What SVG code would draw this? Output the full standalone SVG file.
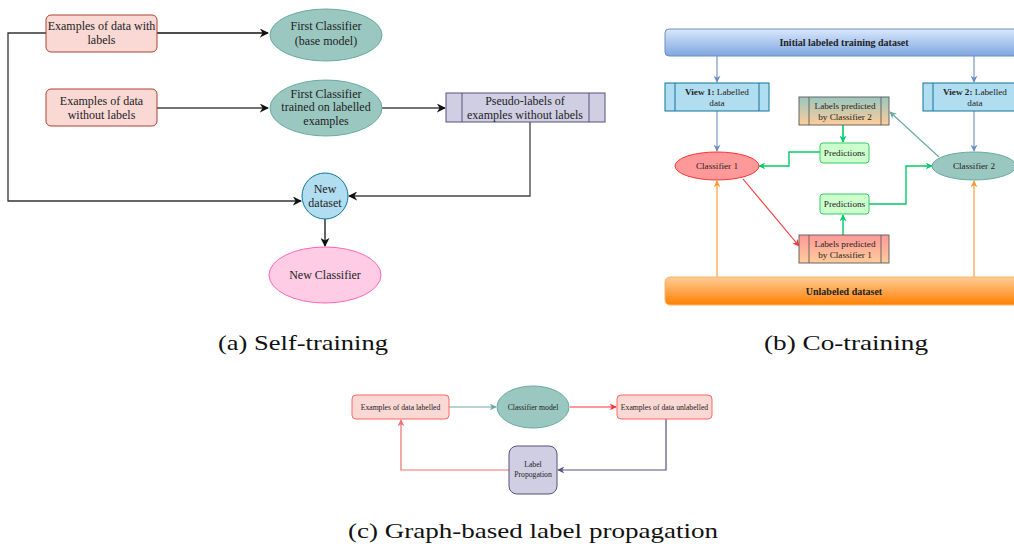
<svg xmlns="http://www.w3.org/2000/svg" width="1014" height="550" viewBox="0 0 1014 550">
  <defs>
    <style>
      text { font-family: 'Liberation Serif', 'DejaVu Serif', serif; fill: #222; text-anchor: middle; }
      .t12 { font-size: 12px; }
      .t9 { font-size: 9.2px; }
      .t8b { font-size: 10px; font-weight: bold; }
      .t7 { font-size: 7.7px; }
      .cap { font-size: 21px; fill: #111; text-anchor: start; }
      .conn { fill: none; }
    </style>
    <!-- arrowheads, one per colour -->
    <marker id="arBlack" viewBox="0 0 10 10" refX="9" refY="5" markerUnits="userSpaceOnUse" markerWidth="9" markerHeight="9" orient="auto">
      <path d="M0,0 L10,5 L0,10 L3,5 Z" fill="#111"/>
    </marker>
    <marker id="arBlue" viewBox="0 0 10 10" refX="9" refY="5" markerUnits="userSpaceOnUse" markerWidth="7" markerHeight="7" orient="auto">
      <path d="M0,0 L10,5 L0,10 L3,5 Z" fill="#6c8ebf"/>
    </marker>
    <marker id="arGreen" viewBox="0 0 10 10" refX="9" refY="5" markerUnits="userSpaceOnUse" markerWidth="7" markerHeight="7" orient="auto">
      <path d="M0,0 L10,5 L0,10 L3,5 Z" fill="#00cc66"/>
    </marker>
    <marker id="arTeal" viewBox="0 0 10 10" refX="9" refY="5" markerUnits="userSpaceOnUse" markerWidth="7" markerHeight="7" orient="auto">
      <path d="M0,0 L10,5 L0,10 L3,5 Z" fill="#67ab9f"/>
    </marker>
    <marker id="arRed" viewBox="0 0 10 10" refX="9" refY="5" markerUnits="userSpaceOnUse" markerWidth="7" markerHeight="7" orient="auto">
      <path d="M0,0 L10,5 L0,10 L3,5 Z" fill="#ff3333"/>
    </marker>
    <marker id="arSalmon" viewBox="0 0 10 10" refX="9" refY="5" markerUnits="userSpaceOnUse" markerWidth="7" markerHeight="7" orient="auto">
      <path d="M0,0 L10,5 L0,10 L3,5 Z" fill="#f07070"/>
    </marker>
    <marker id="arOrange" viewBox="0 0 10 10" refX="9" refY="5" markerUnits="userSpaceOnUse" markerWidth="7" markerHeight="7" orient="auto">
      <path d="M0,0 L10,5 L0,10 L3,5 Z" fill="#ff9933"/>
    </marker>
    <marker id="arPurple" viewBox="0 0 10 10" refX="9" refY="5" markerUnits="userSpaceOnUse" markerWidth="7" markerHeight="7" orient="auto">
      <path d="M0,0 L10,5 L0,10 L3,5 Z" fill="#56517e"/>
    </marker>

    <linearGradient id="gBlue" x1="0" y1="0" x2="0" y2="1">
      <stop offset="0" stop-color="#dae8fc"/>
      <stop offset="1" stop-color="#7ea6e0"/>
    </linearGradient>
    <linearGradient id="gOrange" x1="0" y1="0" x2="0" y2="1">
      <stop offset="0" stop-color="#ffcc99"/>
      <stop offset="1" stop-color="#ff8000"/>
    </linearGradient>
    <linearGradient id="gTealPeach" x1="0" y1="0" x2="0" y2="1">
      <stop offset="0" stop-color="#9ac7bf"/>
      <stop offset="1" stop-color="#ffcc99"/>
    </linearGradient>
    <linearGradient id="gRedPeach" x1="0" y1="0" x2="0" y2="1">
      <stop offset="0" stop-color="#ff9999"/>
      <stop offset="1" stop-color="#ffcc99"/>
    </linearGradient>
  </defs>

  <rect width="1014" height="550" fill="#fff"/>

  <!-- ===== (a) Self-training ===== -->
  <g id="a-connectors" class="conn" stroke-width="1.3">
    <path d="M157,33 L268,33" stroke="#111" marker-end="url(#arBlack)"/>
    <path d="M46,33 L8,33 L8,201 L301,201" stroke="#333" marker-end="url(#arBlack)"/>
    <path d="M157,108 L268,108" stroke="#444" marker-end="url(#arBlack)"/>
    <path d="M382,108 L445,108" stroke="#444" marker-end="url(#arBlack)"/>
    <path d="M530,122 L530,196 L349,196" stroke="#444" marker-end="url(#arBlack)"/>
    <path d="M325,219 L325,246" stroke="#111" marker-end="url(#arBlack)"/>
  </g>

  <g id="a-labelled">
    <rect x="46" y="15" width="111" height="37" rx="5" fill="#fad9d5" stroke="#ae4132"/>
    <text class="t12" x="101.5" y="30">Examples of data with</text>
    <text class="t12" x="101.5" y="44">labels</text>
  </g>
  <g id="a-base-model">
    <ellipse cx="326" cy="35" rx="56" ry="26" fill="#9ac7bf" stroke="#67ab9f"/>
    <text class="t12" x="326" y="30">First Classifier</text>
    <text class="t12" x="326" y="45">(base model)</text>
  </g>
  <g id="a-unlabelled">
    <rect x="46" y="89" width="111" height="37" rx="5" fill="#fad9d5" stroke="#ae4132"/>
    <text class="t12" x="101.5" y="105">Examples of data</text>
    <text class="t12" x="101.5" y="119">without labels</text>
  </g>
  <g id="a-trained">
    <ellipse cx="326" cy="108" rx="56" ry="28" fill="#9ac7bf" stroke="#67ab9f"/>
    <text class="t12" x="326" y="98">First Classifier</text>
    <text class="t12" x="326" y="111">trained on labelled</text>
    <text class="t12" x="326" y="125">examples</text>
  </g>
  <g id="a-pseudo">
    <rect x="446" y="93" width="159" height="29" fill="#d0cee2" stroke="#56517e"/>
    <line x1="462" y1="93" x2="462" y2="122" stroke="#56517e"/>
    <line x1="589" y1="93" x2="589" y2="122" stroke="#56517e"/>
    <text class="t12" x="525" y="105">Pseudo-labels of</text>
    <text class="t12" x="525" y="119">examples without labels</text>
  </g>
  <g id="a-new-dataset">
    <circle cx="325" cy="196" r="23" fill="#b1ddf0" stroke="#10739e"/>
    <text class="t12" x="325" y="193">New</text>
    <text class="t12" x="325" y="207">dataset</text>
  </g>
  <g id="a-new-classifier">
    <ellipse cx="325" cy="275" rx="56" ry="28" fill="#ffcce6" stroke="#ff66b3"/>
    <text class="t12" x="325" y="279">New Classifier</text>
  </g>

  <!-- ===== (b) Co-training ===== -->
  <g id="b-connectors" class="conn" stroke-width="1.1">
    <path d="M717,56 L717,82" stroke="#6c8ebf" marker-end="url(#arBlue)"/>
    <path d="M974,56 L974,82" stroke="#6c8ebf" marker-end="url(#arBlue)"/>
    <path d="M717,111 L717,151" stroke="#6c8ebf" marker-end="url(#arBlue)"/>
    <path d="M974,111 L974,151" stroke="#6c8ebf" marker-end="url(#arBlue)"/>
    <path d="M843,125 L843,142" stroke="#00cc66" stroke-width="1.6" marker-end="url(#arGreen)"/>
    <path d="M820,152 L789,152 L789,166 L759,166" stroke="#00cc66" stroke-width="1.4" marker-end="url(#arGreen)"/>
    <path d="M939,157 L890,112" stroke="#67ab9f" marker-end="url(#arTeal)"/>
    <path d="M869,204 L906,204 L906,166 L932,166" stroke="#00cc66" stroke-width="1.4" marker-end="url(#arGreen)"/>
    <path d="M843,235 L843,215" stroke="#00cc66" stroke-width="1.4" marker-end="url(#arGreen)"/>
    <path d="M743,179 L799,246" stroke="#ff3333" marker-end="url(#arRed)"/>
    <path d="M717,277 L717,181" stroke="#ffa54f" stroke-width="1.3" marker-end="url(#arOrange)"/>
    <path d="M974,277 L974,181" stroke="#ffa54f" stroke-width="1.3" marker-end="url(#arOrange)"/>
  </g>

  <g id="b-initial">
    <rect x="665" y="29" width="365" height="27" rx="4" fill="url(#gBlue)" stroke="#6c8ebf"/>
    <text class="t8b" x="844" y="46">Initial labeled training dataset</text>
  </g>
  <g id="b-view1">
    <rect x="665" y="83" width="104" height="28" fill="#b1ddf0" stroke="#10739e"/>
    <line x1="675" y1="83" x2="675" y2="111" stroke="#10739e"/>
    <line x1="759" y1="83" x2="759" y2="111" stroke="#10739e"/>
    <text class="t9" x="717" y="95"><tspan font-weight="bold">View 1:</tspan> Labelled</text>
    <text class="t9" x="717" y="106">data</text>
  </g>
  <g id="b-view2">
    <rect x="923" y="83" width="104" height="28" fill="#b1ddf0" stroke="#10739e"/>
    <line x1="933" y1="83" x2="933" y2="111" stroke="#10739e"/>
    <line x1="1017" y1="83" x2="1017" y2="111" stroke="#10739e"/>
    <text class="t9" x="975" y="95"><tspan font-weight="bold">View 2:</tspan> Labelled</text>
    <text class="t9" x="975" y="106">data</text>
  </g>
  <g id="b-labels-c2">
    <rect x="799" y="97" width="90" height="28" fill="url(#gTealPeach)" stroke="#666"/>
    <line x1="809" y1="97" x2="809" y2="125" stroke="#666"/>
    <line x1="881" y1="97" x2="881" y2="125" stroke="#666"/>
    <text class="t9" x="845" y="109">Labels predicted</text>
    <text class="t9" x="845" y="120">by Classifier 2</text>
  </g>
  <g id="b-predictions-top">
    <rect x="820" y="143" width="49" height="20" rx="3" fill="#ccffcc" stroke="#33cc66"/>
    <text class="t9" x="844.5" y="156">Predictions</text>
  </g>
  <g id="b-classifier1">
    <ellipse cx="717" cy="166" rx="42" ry="14" fill="#ff9999" stroke="#ff3333"/>
    <text class="t9" x="717" y="169">Classifier 1</text>
  </g>
  <g id="b-classifier2">
    <ellipse cx="974" cy="166" rx="42" ry="14" fill="#9ac7bf" stroke="#67ab9f"/>
    <text class="t9" x="974" y="169">Classifier 2</text>
  </g>
  <g id="b-predictions-bottom">
    <rect x="820" y="194" width="49" height="20" rx="3" fill="#ccffcc" stroke="#33cc66"/>
    <text class="t9" x="844.5" y="207">Predictions</text>
  </g>
  <g id="b-labels-c1">
    <rect x="799" y="235" width="90" height="28" fill="url(#gRedPeach)" stroke="#666"/>
    <line x1="809" y1="235" x2="809" y2="263" stroke="#666"/>
    <line x1="881" y1="235" x2="881" y2="263" stroke="#666"/>
    <text class="t9" x="845" y="247">Labels predicted</text>
    <text class="t9" x="845" y="258">by Classifier 1</text>
  </g>
  <g id="b-unlabeled">
    <rect x="665" y="277" width="365" height="28" rx="5" fill="url(#gOrange)" stroke="#ffb366"/>
    <text class="t8b" x="844" y="294.5">Unlabeled dataset</text>
  </g>

  <!-- ===== (c) Graph-based label propagation ===== -->
  <g id="c-connectors" class="conn" stroke-width="1.2">
    <path d="M449,407 L496,407" stroke="#67ab9f" marker-end="url(#arTeal)"/>
    <path d="M570,407 L616,407" stroke="#ff3333" marker-end="url(#arRed)"/>
    <path d="M666,419 L666,470 L558,470" stroke="#56517e" marker-end="url(#arPurple)"/>
    <path d="M509,470 L401,470 L401,420" stroke="#f07070" marker-end="url(#arSalmon)"/>
  </g>

  <g id="c-labelled">
    <rect x="352" y="395" width="97" height="24" rx="4" fill="#fad9d5" stroke="#ff6666"/>
    <text class="t7" x="400.5" y="410">Examples of data labelled</text>
  </g>
  <g id="c-classifier">
    <ellipse cx="533" cy="407" rx="36" ry="21" fill="#9ac7bf" stroke="#67ab9f"/>
    <text class="t7" x="533" y="410">Classifier model</text>
  </g>
  <g id="c-unlabelled">
    <rect x="617" y="395" width="95" height="24" rx="4" fill="#fad9d5" stroke="#ff6666"/>
    <text class="t7" x="664.5" y="410">Examples of data unlabelled</text>
  </g>
  <g id="c-propagation">
    <rect x="509" y="446" width="48" height="48" rx="8" fill="#d0cee2" stroke="#56517e"/>
    <text class="t7" x="533" y="467">Label</text>
    <text class="t7" x="533" y="477">Propogation</text>
  </g>

  <!-- captions -->
  <text class="cap" x="218" y="350" textLength="170" lengthAdjust="spacingAndGlyphs">(a) Self-training</text>
  <text class="cap" x="764" y="350" textLength="164" lengthAdjust="spacingAndGlyphs">(b) Co-training</text>
  <text class="cap" x="348" y="538" textLength="370" lengthAdjust="spacingAndGlyphs">(c) Graph-based label propagation</text>
</svg>
